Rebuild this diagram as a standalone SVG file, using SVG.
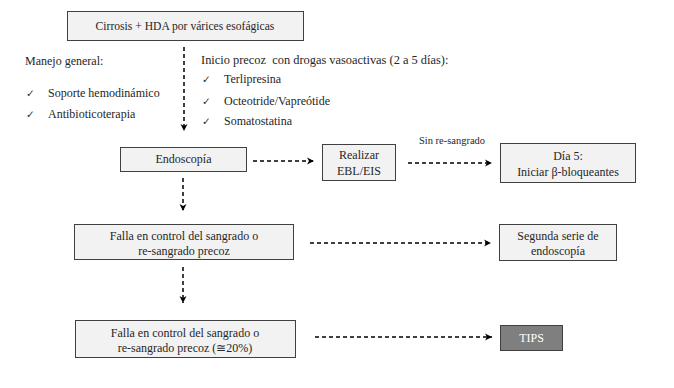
<svg xmlns="http://www.w3.org/2000/svg" width="674" height="388" viewBox="0 0 674 388">
<defs>
<marker id="ah" markerWidth="8" markerHeight="8" refX="7" refY="4" orient="auto" markerUnits="userSpaceOnUse">
<path d="M0,0.5 L7,4 L0,7.5 L2,4 Z" fill="#000"/>
</marker>
<style>
.box{fill:#f2f2f2;stroke:#404040;stroke-width:1}
.t{font-family:'Liberation Serif','Times New Roman',serif;font-size:12px;fill:#262626}
.c{text-anchor:middle}
.s{font-size:10.5px}
.ck{font-family:'DejaVu Sans',sans-serif;font-size:10.5px;fill:#333}
.con{stroke:#000;stroke-width:1.5;stroke-dasharray:4,3;fill:none}
</style>
</defs>
<rect width="674" height="388" fill="#fff"/>
<g id="cirrosis"><rect class="box" x="67.5" y="11.5" width="236" height="29"/><text class="t c" x="185" y="30" style="font-size:11.6px">Cirrosis + HDA por várices esofágicas</text></g>
<g id="manejo">
<text class="t" x="25" y="65">Manejo general:</text>
<text class="ck" x="26" y="97">✓</text><text class="t" x="48" y="97">Soporte hemodinámico</text>
<text class="ck" x="26" y="118">✓</text><text class="t" x="48" y="118">Antibioticoterapia</text>
</g>
<g id="drogas">
<text class="t" x="201" y="64" style="white-space:pre;font-size:12.4px">Inicio precoz  con drogas vasoactivas (2 a 5 días):</text>
<text class="ck" x="202" y="83">✓</text><text class="t" x="224" y="83">Terlipresina</text>
<text class="ck" x="202" y="105">✓</text><text class="t" x="224" y="105">Octeotride/Vapreótide</text>
<text class="ck" x="202" y="125">✓</text><text class="t" x="224" y="125">Somatostatina</text>
</g>
<g id="endoscopia"><rect class="box" x="120.5" y="147.5" width="126" height="24"/><text class="t c" x="183.5" y="163">Endoscopía</text></g>
<g id="realizar"><rect class="box" x="322.5" y="144.5" width="73" height="36"/><text class="t c" x="359" y="159">Realizar</text><text class="t c" x="359" y="175">EBL/EIS</text></g>
<g id="dia5"><rect class="box" x="500.5" y="143.5" width="135" height="39"/><text class="t c" x="568" y="160">Día 5:</text><text class="t c" x="568" y="176">Iniciar β-bloqueantes</text></g>
<g id="falla1"><rect class="box" x="74.5" y="224.5" width="219" height="35"/><text class="t c" x="184" y="240">Falla en control del sangrado o</text><text class="t c" x="184" y="255">re-sangrado precoz</text></g>
<g id="segunda"><rect class="box" x="499.5" y="224.5" width="117" height="36"/><text class="t c" x="558" y="240">Segunda serie de</text><text class="t c" x="558" y="255">endoscopía</text></g>
<g id="falla2"><rect class="box" x="75.5" y="320.5" width="220" height="37"/><text class="t c" x="185" y="337">Falla en control del sangrado o</text><text class="t c" x="185" y="352">re-sangrado precoz (≅20%)</text></g>
<g id="tips"><rect x="500.5" y="325.5" width="62" height="25" fill="#7f7f7f" stroke="#404040"/><text class="t c" x="531.5" y="342" style="fill:#fff">TIPS</text></g>
<g id="connectors">
<line class="con" x1="184" y1="47" x2="184" y2="131" marker-end="url(#ah)"/>
<line class="con" x1="253" y1="161" x2="314" y2="161" marker-end="url(#ah)"/>
<line class="con" x1="408" y1="163" x2="492" y2="163" marker-end="url(#ah)"/>
<text class="t s" x="452" y="144" text-anchor="middle">Sin re-sangrado</text>
<line class="con" x1="183" y1="178" x2="183" y2="211" marker-end="url(#ah)"/>
<line class="con" x1="310" y1="243" x2="491" y2="243" marker-end="url(#ah)"/>
<line class="con" x1="183" y1="267" x2="183" y2="303" marker-end="url(#ah)"/>
<line class="con" x1="315" y1="337" x2="492" y2="337" marker-end="url(#ah)"/>
</g>
</svg>
